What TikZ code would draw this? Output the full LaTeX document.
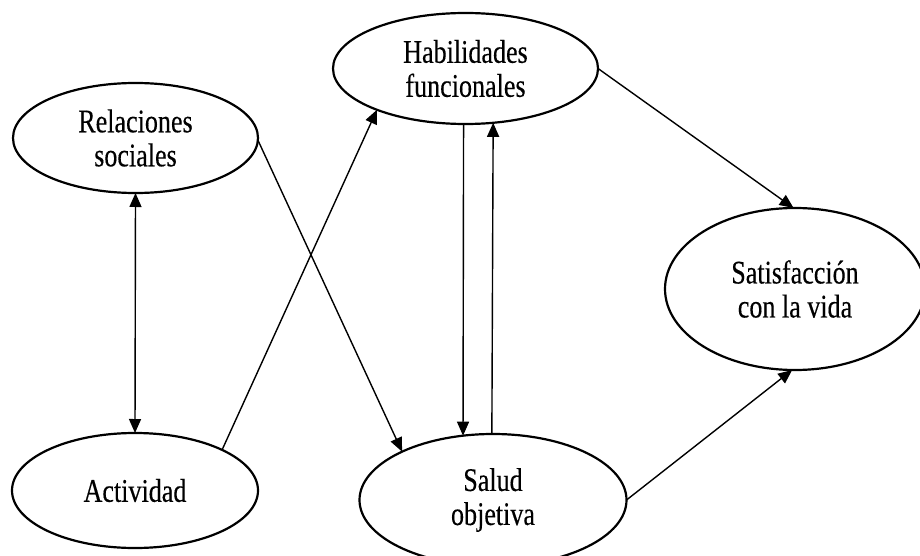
\documentclass[tikz,border=0pt]{standalone}
\usepackage{fontspec}
\setmainfont{Liberation Serif}[FakeStretch=0.79,FakeBold=0.3]
\usetikzlibrary{shapes.geometric,arrows.meta}

\tikzset{
  concept/.style={ellipse, draw, line width=2.2pt, inner sep=0pt, outer sep=0pt,
    align=center, font=\fontsize{33}{34}\selectfont},
  link/.style={line width=1.4pt, -{Triangle[length=14pt,width=12pt]}},
  biglink/.style={line width=1.4pt, {Triangle[length=14pt,width=12pt]}-{Triangle[length=14pt,width=12pt]}}
}

\begin{document}
\begin{tikzpicture}[x=1pt,y=-1pt]
  \clip (0,0) rectangle (920,556);
  \fill[white] (0,0) rectangle (920,556);

  % concepts
  \node[concept, minimum width=245pt, minimum height=110pt] (rel) at (135.5,138) {Relaciones\\sociales};
  \node[concept, minimum width=265pt, minimum height=111pt] (hab) at (465.5,68.5) {Habilidades\\funcionales};
  \node[concept, minimum width=260pt, minimum height=162pt] (sat) at (795,289) {Satisfacción\\con la vida};
  \node[concept, minimum width=246pt, minimum height=115pt] (act) at (135,490.5) {Actividad};
  \node[concept, minimum width=267pt, minimum height=132pt] (sal) at (493,500) {Salud\\objetiva};

  % relations
  \draw[biglink] (rel.south) -- (act.north);
  \draw[link] (rel.-1) -- (sal.152.7);
  \draw[link] (act.25.8) -- (hab.-155.7);
  \draw[link] (hab.-92) -- (sal.115);
  \draw[link] (sal.91) -- (hab.-63.8);
  \draw[link] (hab.0) -- (sat.91.4);
  \draw[link] (sal.0) -- (sat.-92);
\end{tikzpicture}
\end{document}
